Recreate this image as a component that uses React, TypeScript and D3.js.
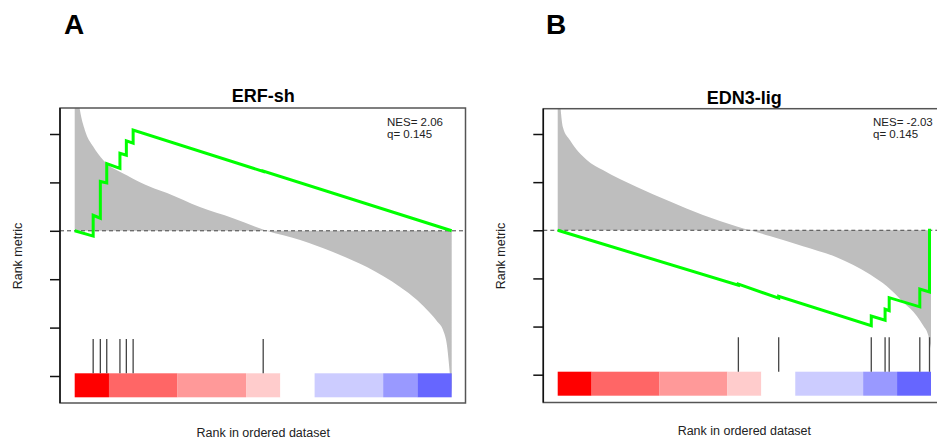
import React, { useEffect, useRef } from 'react';
import * as d3 from 'd3';

// ranks go 0..1000 along the ordered gene list
const rankMax = 1000;

// ERF-sh: ranked metric (sampled), running ES, hits
const erfMetricRanks = [0, 14, 27, 49, 76, 138, 200, 245, 332, 420, 509, 598, 685, 775, 863, 908, 940, 962, 977, 988, 995, 1000];
const erfMetricValues = [3.4, 2.49, 2.08, 1.74, 1.46, 1.15, 0.91, 0.78, 0.49, 0.26, 0, -0.19, -0.44, -0.75, -1.16, -1.43, -1.68, -1.88, -2.05, -2.4, -2.95, -3.4];
const erfEsRanks = [0, 49, 49, 68, 68, 85, 85, 120, 120, 137, 137, 155, 155, 500, 500, 1000];
const erfEsValues = [0, -0.11, 0.32, 0.26, 1.02, 0.99, 1.39, 1.29, 1.6, 1.56, 1.86, 1.81, 2.08, 1.226, 1.232, 0];
const erfHits = [49, 68, 85, 120, 137, 155, 500];

// EDN3-lig
const ednMetricRanks = [0, 14, 33, 78, 121, 212, 301, 389, 480, 515, 568, 657, 747, 837, 881, 925, 962, 979, 993, 1000];
const ednMetricValues = [3.4, 2.14, 1.87, 1.46, 1.25, 0.9, 0.6, 0.32, 0.08, 0, -0.12, -0.33, -0.56, -0.92, -1.16, -1.49, -1.78, -1.98, -2.19, -2.45];
const ednEsRanks = [0, 484, 484, 592, 592, 840, 840, 877, 877, 888, 888, 970, 970, 996, 996, 1000];
const ednEsValues = [0, -1.14, -1.12, -1.41, -1.37, -1.98, -1.78, -1.87, -1.64, -1.67, -1.4, -1.59, -1.22, -1.28, 0, 0];
const ednHits = [484, 592, 840, 877, 888, 970, 996];

// bottom colour bar (relative widths)
const barColors = ['#ff0000', '#ff6666', '#ff9999', '#ffcccc', '#ffffff', '#ccccff', '#9999ff', '#6666ff'];
const barUnits = [1, 2, 2, 1, 1, 2, 1, 1];

const yTicks = [-3, -2, -1, 0, 1, 2];

const panelLetters = ['A', 'B'];
const titles = ['ERF-sh', 'EDN3-lig'];
const nesLabels = ['NES= 2.06', 'NES= -2.03'];
const qLabels = ['q= 0.145', 'q= 0.145'];

const font = 'Liberation Sans, Arial, Helvetica, sans-serif';

const zip = (a: number[], b: number[]) => a.map((r, i) => ({ rank: r, value: b[i] }));

type PanelProps = {
  idx: number;
  box: { left: number; top: number; right: number; bottom: number };
  xRange: [number, number];
  yRange: [number, number];
  barY: [number, number];
  hitTop: number;
  metric: { rank: number; value: number }[];
  es: { rank: number; value: number }[];
  hits: number[];
  nesX: number;
  letterX: number;
  rankLabelX: number;
  xLabelY: number;
  titleY: number;
};

function Panel(props: PanelProps) {
  const { idx, box, xRange, yRange, barY, hitTop, metric, es, hits } = props;
  const axisRef = useRef<SVGGElement>(null);

  const x = d3.scaleLinear().domain([0, rankMax]).range(xRange);
  const y = d3.scaleLinear().domain([-3, 2]).range(yRange);

  useEffect(() => {
    const axis = d3.axisLeft(y).tickValues(yTicks).tickSize(10).tickFormat(() => '');
    const g = d3.select(axisRef.current!);
    g.call(axis as any);
    g.select('.domain').remove();
    g.selectAll('.tick line').attr('stroke', '#111').attr('stroke-width', 1.5);
  }, []);

  const area = d3.area<{ rank: number; value: number }>()
    .x(d => x(d.rank))
    .y0(y(0))
    .y1(d => y(d.value))
    .curve(d3.curveMonotoneX);

  const line = d3.line<{ rank: number; value: number }>()
    .x(d => x(d.rank))
    .y(d => y(d.value));

  // colour bar segments
  const totalUnits = d3.sum(barUnits);
  const xBar = d3.scaleLinear().domain([0, totalUnits]).range(xRange);
  const cum = d3.cumsum(barUnits);

  const clipId = `clip-${idx}`;
  const midX = (xRange[0] + xRange[1]) / 2;

  return (
    <g>
      <defs>
        <clipPath id={clipId}>
          <rect x={box.left} y={box.top} width={box.right - box.left} height={box.bottom - box.top} />
        </clipPath>
      </defs>

      <text x={props.letterX} y={34} fontFamily={font} fontWeight="bold" fontSize={28}>{panelLetters[idx]}</text>
      <text x={midX} y={props.titleY} fontFamily={font} fontWeight="bold" fontSize={18} textAnchor="middle">{titles[idx]}</text>

      <g clipPath={`url(#${clipId})`}>
        <path d={area(metric) || ''} fill="#bebebe" />
        <line x1={box.left} x2={box.right} y1={y(0)} y2={y(0)} stroke="#444" strokeDasharray="4,3" strokeWidth={1} />

        {barUnits.map((u, i) => (
          <rect key={i}
            x={xBar(cum[i] - u)}
            y={barY[0]}
            width={xBar(cum[i]) - xBar(cum[i] - u)}
            height={barY[1] - barY[0]}
            fill={barColors[i]} />
        ))}

        {hits.map((h, i) => (
          <line key={i} x1={x(h)} x2={x(h)} y1={hitTop} y2={barY[0]} stroke="#444" strokeWidth={1.3} />
        ))}

        <path d={line(es) || ''} fill="none" stroke="#00ff00" strokeWidth={3} strokeLinejoin="miter" />
      </g>

      <rect x={box.left} y={box.top} width={box.right - box.left} height={box.bottom - box.top}
        fill="none" stroke="#555" strokeWidth={1.5} />
      <line x1={box.left} x2={box.left} y1={box.top} y2={box.bottom} stroke="#111" strokeWidth={1.5} />
      <g ref={axisRef} transform={`translate(${box.left}, 0)`} />

      <text x={props.nesX} y={126} fontFamily={font} fontSize={11.5} fill="#222">{nesLabels[idx]}</text>
      <text x={props.nesX} y={137.5} fontFamily={font} fontSize={11.5} fill="#222">{qLabels[idx]}</text>

      <text transform={`translate(${props.rankLabelX}, 256) rotate(-90)`} fontFamily={font} fontSize={12.5}
        textAnchor="middle" fill="#222">Rank metric</text>
      <text x={midX} y={props.xLabelY} fontFamily={font} fontSize={12.5} textAnchor="middle" fill="#222">
        Rank in ordered dataset
      </text>
    </g>
  );
}

export default function App() {
  return (
    <svg width={937} height={439} style={{ position: 'absolute', left: 0, top: 0, background: '#fff' }}>
      <Panel idx={0}
        box={{ left: 60, top: 108, right: 465.5, bottom: 403 }}
        xRange={[74.7, 451.7]}
        yRange={[376, 134]}
        barY={[373.3, 397.3]}
        hitTop={339}
        metric={zip(erfMetricRanks, erfMetricValues)}
        es={zip(erfEsRanks, erfEsValues)}
        hits={erfHits}
        nesX={387}
        letterX={64}
        rankLabelX={21.5}
        xLabelY={437}
        titleY={102} />
      <Panel idx={1}
        box={{ left: 543.3, top: 108.7, right: 980, bottom: 402.5 }}
        xRange={[557.7, 931]}
        yRange={[374.7, 134]}
        barY={[371.7, 395.7]}
        hitTop={337.3}
        metric={zip(ednMetricRanks, ednMetricValues)}
        es={zip(ednEsRanks, ednEsValues)}
        hits={ednHits}
        nesX={873}
        letterX={546}
        rankLabelX={505}
        xLabelY={435}
        titleY={104} />
    </svg>
  );
}
